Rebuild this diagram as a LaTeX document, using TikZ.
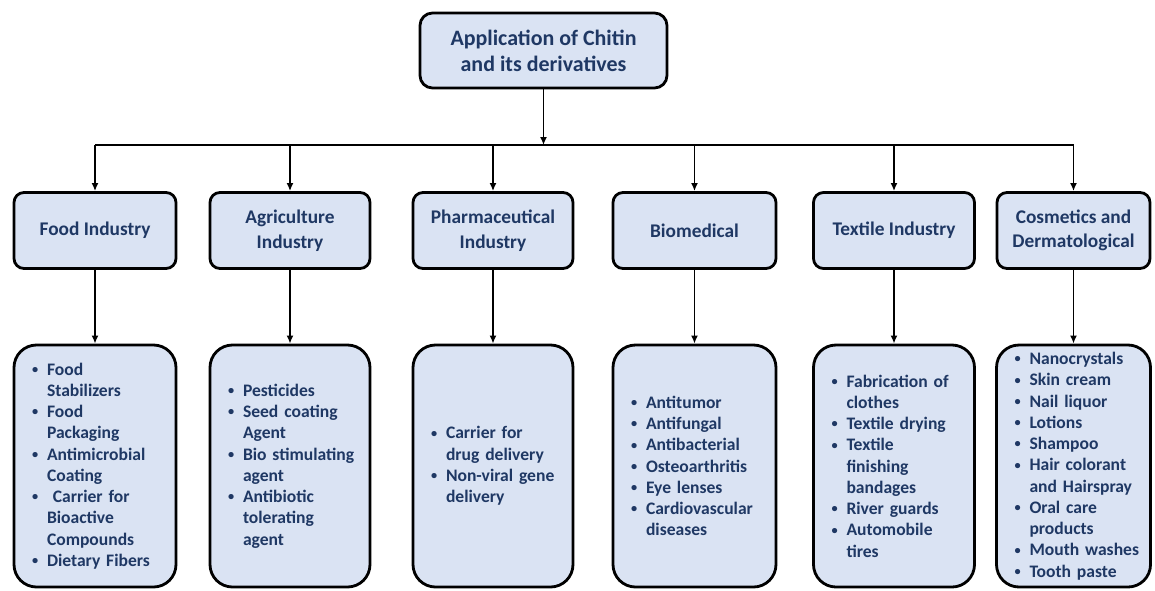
\documentclass[tikz,border=0pt]{standalone}
\usepackage{fontspec}
\setmainfont{Carlito}
\usetikzlibrary{arrows.meta}
\definecolor{boxfill}{HTML}{DAE3F3}
\definecolor{boxtext}{HTML}{1F3864}
\newcommand{\bitem}[1]{\makebox[3mm][l]{\raisebox{0.2ex}{\scriptsize\textbullet}}\mbox{#1}}
\newcommand{\bcont}[1]{\hspace*{3mm}\mbox{#1}}
\begin{document}
\begin{tikzpicture}[x=1mm,y=1mm,
  rootbox/.style={draw,fill=boxfill,line width=1.6pt,rounded corners=2.5mm,minimum width=49.4mm,minimum height=15mm,align=center,text=boxtext,font=\fontsize{12.5}{14.8}\selectfont\bfseries},
  indbox/.style={draw,fill=boxfill,line width=1.6pt,rounded corners=2mm,minimum height=15.2mm,align=center,text=boxtext,font=\fontsize{11}{14}\selectfont\bfseries},
  appbox/.style={draw,fill=boxfill,line width=1.6pt,rounded corners=4.5mm,minimum height=48.4mm,inner xsep=3.6mm,inner ysep=0.5mm,align=left,text=boxtext,font=\fontsize{10}{12.1}\selectfont\bfseries},
  conn/.style={line width=1pt,-{Latex[length=1.6mm,width=1.4mm]}}]
\useasboundingbox (0,0) rectangle (231,-118);

\node[rootbox] (root) at (108.7,-10.1) {Application of Chitin\\and its derivatives};
\coordinate (bus) at (108.7,-29);

\node[indbox,minimum width=32.4mm] (food)    at (19,-46.1)    {Food Industry};
\node[indbox,minimum width=32mm]   (agri)    at (58,-46.1)    {Agriculture\\Industry};
\node[indbox,minimum width=32mm]   (pharma)  at (98.6,-46.1)  {Pharmaceutical\\Industry};
\node[indbox,minimum width=32.6mm] (bio)     at (138.9,-46.1) {Biomedical};
\node[indbox,minimum width=32.2mm] (textile) at (178.8,-46.1) {Textile Industry};
\node[indbox,minimum width=30.6mm] (cos)     at (214.7,-46.1) {Cosmetics and\\Dermatological};

\node[appbox,minimum width=32.4mm,text width=25.2mm] (food-app) at (19,-93.2)
  {\bitem{Food}\\\bcont{Stabilizers}\\\bitem{Food}\\\bcont{Packaging}\\\bitem{Antimicrobial}\\\bcont{Coating}\\\bitem{\ Carrier for}\\\bcont{Bioactive}\\\bcont{Compounds}\\\bitem{Dietary Fibers}};
\node[appbox,minimum width=32mm,text width=24.8mm] (agri-app) at (58,-93.2)
  {\bitem{Pesticides}\\\bitem{Seed coating}\\\bcont{Agent}\\\bitem{Bio stimulating}\\\bcont{agent}\\\bitem{Antibiotic}\\\bcont{tolerating}\\\bcont{agent}};
\node[appbox,minimum width=32mm,text width=24.8mm] (pharma-app) at (98.6,-93.2)
  {\bitem{Carrier for}\\\bcont{drug delivery}\\\bitem{Non-viral gene}\\\bcont{delivery}};
\node[appbox,minimum width=32.6mm,text width=25.4mm] (bio-app) at (138.9,-93.2)
  {\bitem{Antitumor}\\\bitem{Antifungal}\\\bitem{Antibacterial}\\\bitem{Osteoarthritis}\\\bitem{Eye lenses}\\\bitem{Cardiovascular}\\\bcont{diseases}};
\node[appbox,minimum width=32.2mm,text width=25mm] (textile-app) at (178.8,-93.2)
  {\bitem{Fabrication of}\\\bcont{clothes}\\\bitem{Textile drying}\\\bitem{Textile}\\\bcont{finishing}\\\bcont{bandages}\\\bitem{River guards}\\\bitem{Automobile}\\\bcont{tires}};
\node[appbox,minimum width=30.8mm,text width=23.6mm] (cos-app) at (214.7,-93.2)
  {\bitem{Nanocrystals}\\\bitem{Skin cream}\\\bitem{Nail liquor}\\\bitem{Lotions}\\\bitem{Shampoo}\\\bitem{Hair colorant}\\\bcont{and Hairspray}\\\bitem{Oral care}\\\bcont{products}\\\bitem{Mouth washes}\\\bitem{Tooth paste}};

\draw[conn] (root) -- (bus);
\draw[line width=1pt] (food.north |- bus) -- (cos.north |- bus);
\foreach \s in {food,agri,pharma,bio,textile,cos}{
  \draw[conn] (\s.north |- bus) -- (\s.north);
  \draw[conn] (\s) -- (\s-app);
}
\end{tikzpicture}
\end{document}
